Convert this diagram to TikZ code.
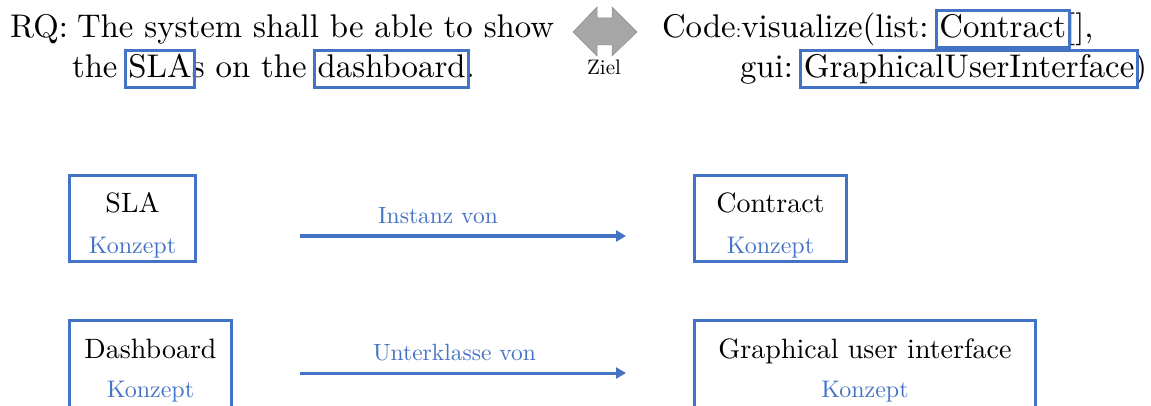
\documentclass[tikz,border=0pt]{standalone}
\usepackage{fontspec}
\setmainfont{lmroman10}[Extension=.otf, UprightFont=*-regular, ItalicFont=*-italic, BoldFont=*-bold]
\usetikzlibrary{arrows.meta,fit}
\definecolor{hlblue}{HTML}{4472C4}
\definecolor{arrgray}{HTML}{A6A6A6}
\tikzset{
  big/.style={font=\fontsize{32.8}{39}\selectfont, inner sep=0pt, outer sep=0pt, anchor=base west},
  hw/.style={text height=27pt, text depth=10pt},
  hlbox/.style={draw=hlblue, line width=3pt, inner xsep=3pt, inner ysep=0pt},
  cbox/.style={draw=hlblue, line width=3pt, inner sep=0pt},
  cname/.style={font=\fontsize{28}{34}\selectfont, inner sep=0pt, anchor=base},
  konz/.style={font=\fontsize{24}{29}\selectfont, text=hlblue, inner sep=0pt, anchor=base},
  rel/.style={font=\fontsize{23.5}{28}\selectfont, text=hlblue, inner sep=0pt, anchor=base},
  relarrow/.style={draw=hlblue, line width=3pt, -{Triangle[length=10pt,width=11pt]}},
}
\newcommand{\wsp}{\ \kern0pt}
\begin{document}
\begin{tikzpicture}[x=1pt,y=-1pt]
\useasboundingbox (0,0) rectangle (1151,406);
\clip (0,0) rectangle (1151,406);
% requirement text
\node[big] (rq) at (10,38) {RQ:};
\node[big] (l1) at (77,38) {The system shall be able to show};
\node[big] (l2a) at (72,78) {the\wsp};
\node[big,hw] (sla) at (l2a.base east) {SLA};
\node[big] (l2b) at (sla.base east) {s on the\wsp};
\node[big,hw] (dash) at (l2b.base east) {dashboard};
\node[big] (l2c) at (dash.base east) {.};
\node[hlbox, fit=(sla)] (slabox) {};
\node[hlbox, fit=(dash)] (dashbox) {};
% double arrow
\filldraw[fill=arrgray, draw=arrgray!85!black, line width=0.5pt]
  (573,32) -- (597,7) -- (597,18) -- (612,18) -- (612,7) -- (637,32)
  -- (612,56) -- (612,45) -- (597,45) -- (597,56) -- cycle;
\node[font=\fontsize{21}{25}\selectfont, inner sep=0pt, anchor=base] (ziel) at (604,75) {Ziel};
% code text
\node[big] (c1a) at (662,38) {Code{\fontsize{20}{24}\selectfont:}visualize(list:\wsp};
\node[big,hw] (contr) at (c1a.base east) {Contract};
\node[big] (c1b) at (contr.base east) {[],};
\node[big] (c2a) at (740,78) {gui:\wsp};
\node[big,hw] (gui) at (c2a.base east) {GraphicalUserInterface};
\node[big] (c2b) at (gui.base east) {)};
\node[hlbox, fit=(contr)] (contrbox) {};
\node[hlbox, fit=(gui)] (guibox) {};
% concept boxes
\node[cbox, minimum width=126pt, minimum height=86pt] (bsla) at (132.5,218.5) {};
\node[cname] (tsla) at (132.5,213) {SLA};
\node[konz] (ksla) at (132.5,253) {Konzept};
\node[cbox, minimum width=162pt, minimum height=120pt] (bdash) at (150.5,380) {};
\node[cname] (tdash) at (150.5,358) {Dashboard};
\node[konz] (kdash) at (150.5,397) {Konzept};
\node[cbox, minimum width=152pt, minimum height=86pt] (bcon) at (770.5,218.5) {};
\node[cname] (tcon) at (770.5,213) {Contract};
\node[konz] (kcon) at (770.5,253) {Konzept};
\node[cbox, minimum width=341pt, minimum height=120pt] (bgui) at (865,380) {};
\node[cname] (tgui) at (865,358) {Graphical user interface};
\node[konz] (kgui) at (865,397) {Konzept};
% relations
\coordinate (a1s) at (300,236);
\coordinate (a1e) at (626,236);
\coordinate (a2s) at (300,373);
\coordinate (a2e) at (626,373);
\draw[relarrow] (a1s) -- (a1e);
\draw[relarrow] (a2s) -- (a2e);
\node[rel] (r1) at (438,223) {Instanz von};
\node[rel] (r2) at (454.5,360) {Unterklasse von};
\end{tikzpicture}
\end{document}
